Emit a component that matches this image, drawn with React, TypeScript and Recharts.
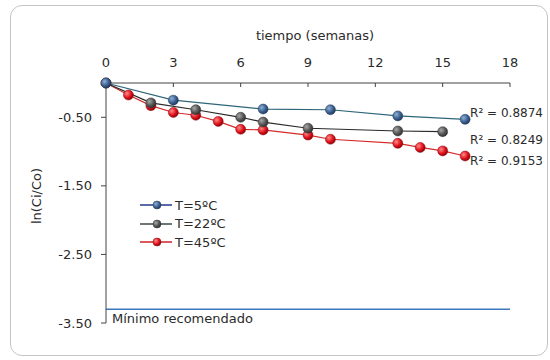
import React from "react";
import {
  LineChart,
  Line,
  XAxis,
  YAxis,
  ReferenceLine,
  ReferenceDot,
} from "recharts";

// semanas y ln(Ci/Co) por temperatura
const weeks5 = [0, 3, 7, 10, 13, 16];
const lnT5 = [0, -0.25, -0.38, -0.39, -0.48, -0.53];

const weeks22 = [0, 2, 4, 6, 7, 9, 13, 15];
const lnT22 = [0, -0.29, -0.39, -0.5, -0.57, -0.66, -0.7, -0.71];

const weeks45 = [0, 1, 2, 3, 4, 5, 6, 7, 9, 10, 13, 14, 15, 16];
const lnT45 = [0, -0.175, -0.33, -0.43, -0.47, -0.56, -0.675, -0.685, -0.76, -0.82, -0.88, -0.94, -0.99, -1.065];

const xTicks = [0, 3, 6, 9, 12, 15, 18];
const yTicks = [-3.5, -2.5, -1.5, -0.5];

const seriesNames = ["T=5ºC", "T=22ºC", "T=45ºC"];
const r2Labels = ["R² = 0.8874", "R² = 0.8249", "R² = 0.9153"];
const r2Y = [-0.44, -0.83, -1.14];
const minimo = -3.3;

const toRows = (xs: number[], ys: number[]) => xs.map((w, i) => ({ week: w, v: ys[i] }));
const data5 = toRows(weeks5, lnT5);
const data22 = toRows(weeks22, lnT22);
const data45 = toRows(weeks45, lnT45);

const FONT = "'DejaVu Sans', Verdana, sans-serif";
const TXT = "#2b2b2b";

const colors = [
  { line: "#2d6677", legend: "#25398a", fill: "url(#gBlue)", stroke: "#243b5c" },
  { line: "#2a2a2a", legend: "#3b4848", fill: "url(#gGray)", stroke: "#333" },
  { line: "#d42a2a", legend: "#d0202a", fill: "url(#gRed)", stroke: "#8a0c10" },
];

const XLabel = (props: any) => {
  const vb = props.viewBox;
  return (
    <text x={vb.x + vb.width / 2 + 7} y={40} textAnchor="middle" fontSize={13} fontFamily={FONT} fill={TXT}>
      tiempo (semanas)
    </text>
  );
};

const YLabel = (props: any) => {
  const vb = props.viewBox;
  const cx = vb.x + 16;
  const cy = vb.y + vb.height / 2 - 7;
  return (
    <text
      x={cx}
      y={cy}
      transform={`rotate(-90 ${cx} ${cy})`}
      textAnchor="middle"
      dominantBaseline="central"
      fontSize={13}
      fontFamily={FONT}
      fill={TXT}
    >
      ln(Ci/Co)
    </text>
  );
};

const MinLabel = (props: any) => {
  const vb = props.viewBox;
  return (
    <text x={vb.x + 6} y={vb.y + 14} fontSize={13} fontFamily={FONT} fill={TXT}>
      Mínimo recomendado
    </text>
  );
};

const R2Label = (props: any) => {
  const vb = props.viewBox;
  return (
    <text x={vb.x + 6} y={vb.y + vb.height / 2} dominantBaseline="central" fontSize={12} fontFamily={FONT} fill={TXT}>
      {props.value}
    </text>
  );
};

const LegendBox = () => (
  <div style={{ position: "absolute", left: 140, top: 196, fontFamily: FONT, fontSize: 13, color: TXT }}>
    {seriesNames.map((name, i) => (
      <div key={name} style={{ display: "flex", alignItems: "center", height: 18.5 }}>
        <svg width={34} height={12}>
          <line x1={0} y1={6} x2={32} y2={6} stroke={colors[i].legend} strokeWidth={1.5} />
          <circle cx={17} cy={6} r={4} fill={colors[i].fill} stroke={colors[i].stroke} strokeWidth={0.5} />
        </svg>
        <span style={{ marginLeft: 1 }}>{name}</span>
      </div>
    ))}
  </div>
);

const Gradients = () => (
  <svg width={0} height={0} style={{ position: "absolute" }}>
    <defs>
      <radialGradient id="gBlue" cx="35%" cy="35%" r="70%">
        <stop offset="0%" stopColor="#8fb0d6" />
        <stop offset="60%" stopColor="#3a5f8f" />
        <stop offset="100%" stopColor="#1f3556" />
      </radialGradient>
      <radialGradient id="gGray" cx="35%" cy="35%" r="70%">
        <stop offset="0%" stopColor="#a8a8a8" />
        <stop offset="60%" stopColor="#555" />
        <stop offset="100%" stopColor="#2e2e2e" />
      </radialGradient>
      <radialGradient id="gRed" cx="35%" cy="35%" r="70%">
        <stop offset="0%" stopColor="#ff8a8a" />
        <stop offset="60%" stopColor="#e0101a" />
        <stop offset="100%" stopColor="#8a0008" />
      </radialGradient>
    </defs>
  </svg>
);

export default function App() {
  const lines = [
    { data: data45, c: colors[2], name: seriesNames[2] },
    { data: data22, c: colors[1], name: seriesNames[1] },
    { data: data5, c: colors[0], name: seriesNames[0] },
  ];
  return (
    <div style={{ position: "absolute", left: 0, top: 0, width: 550, height: 360, background: "#fff", overflow: "hidden" }}>
      <Gradients />
      <div
        style={{
          position: "absolute",
          left: 10,
          top: 5,
          width: 536,
          height: 349,
          border: "1px solid #c4c4c4",
          borderRadius: 12,
        }}
      />
      <div style={{ position: "absolute", left: 0, top: 0 }}>
        <LineChart width={550} height={360} margin={{ top: 0, right: 40, bottom: 37, left: 20 }}>
          <XAxis
            dataKey="week"
            type="number"
            orientation="top"
            domain={[0, 18]}
            ticks={xTicks}
            height={83}
            tickSize={-4}
            tickMargin={20}
            axisLine={{ stroke: "#444" }}
            tickLine={{ stroke: "#444" }}
            tick={{ fontSize: 13, fontFamily: FONT, fill: TXT }}
            label={<XLabel />}
          />
          <YAxis
            type="number"
            domain={[-3.5, 0]}
            ticks={yTicks}
            width={86}
            tickSize={5}
            tickMargin={9}
            tickFormatter={(v: number) => v.toFixed(2)}
            axisLine={{ stroke: "#444" }}
            tickLine={{ stroke: "#444" }}
            tick={{ fontSize: 13, fontFamily: FONT, fill: TXT }}
            label={<YLabel />}
          />
          <ReferenceLine y={minimo} stroke="#3a78c0" strokeWidth={1.5} label={<MinLabel />} />
          {lines.map((s) => (
            <Line
              key={s.name}
              data={s.data}
              dataKey="v"
              name={s.name}
              stroke={s.c.line}
              strokeWidth={1.2}
              dot={{ r: 5, fill: s.c.fill, stroke: s.c.stroke, strokeWidth: 0.5 }}
              activeDot={false}
              isAnimationActive={false}
            />
          ))}
          {r2Labels.map((t, i) => (
            <ReferenceDot key={t} x={16} y={r2Y[i]} r={1} fill="none" stroke="none" label={<R2Label value={t} />} />
          ))}
        </LineChart>
      </div>
      <LegendBox />
    </div>
  );
}
